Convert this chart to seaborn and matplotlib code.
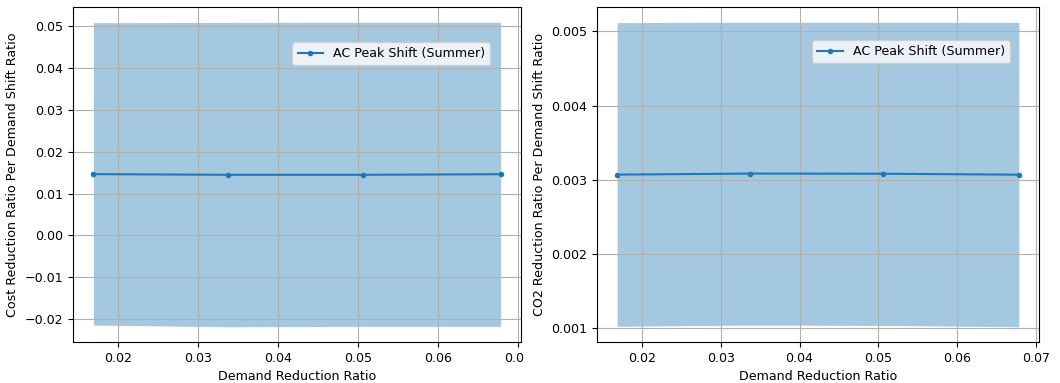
import matplotlib
matplotlib.use("Agg")
import matplotlib.pyplot as plt
import seaborn as sns
import pandas as pd
from matplotlib.transforms import Bbox, TransformedBbox, IdentityTransform

# ---- data ----
demand_reduction = [0.01688, 0.03375, 0.05063, 0.06780]
cost_mean = [0.01464, 0.01448, 0.01448, 0.01462]
cost_lower = [-0.0215, -0.0219, -0.0218, -0.0218]
cost_upper = [0.0509, 0.05095, 0.0510, 0.0510]
co2_mean = [0.003067, 0.003081, 0.003079, 0.003066]
co2_lower = [0.001018, 0.001035, 0.001030, 0.001012]
co2_upper = [0.005120, 0.005125, 0.005125, 0.005122]
series_label = "AC Peak Shift (Summer)"
x_label = "Demand Reduction Ratio"
y_labels = ["Cost Reduction Ratio Per Demand Shift Ratio",
            "CO2 Reduction Ratio Per Demand Shift Ratio"]
x_ticks = [0.02, 0.03, 0.04, 0.05, 0.06, 0.07]
cost_ticks = [-0.02, -0.01, 0.0, 0.01, 0.02, 0.03, 0.04, 0.05]
co2_ticks = [0.001, 0.002, 0.003, 0.004, 0.005]

plt.rcParams.update(matplotlib.rcParamsDefault)
plt.rcParams['font.family'] = ['DejaVu Sans']
plt.rcParams['font.size'] = 9.1

W, H = 1060, 383
fig = plt.figure(figsize=(W / 100, H / 100), dpi=100)
ax1 = fig.add_axes([73 / W, 1 - 342 / H, (521 - 73) / W, 335 / H])
ax2 = fig.add_axes([597 / W, 1 - 342 / H, (1039 - 597) / W, 335 / H])

color = "#1f77b4"
panels = [(ax1, cost_mean, cost_lower, cost_upper, y_labels[0]),
          (ax2, co2_mean, co2_lower, co2_upper, y_labels[1])]
for ax, mean, lo, hi, ylab in panels:
    df = pd.DataFrame({"x": demand_reduction, "y": mean})
    sns.lineplot(data=df, x="x", y="y", ax=ax, marker="o", markersize=4,
                 markeredgewidth=0, color=color, label=series_label, linewidth=1.5)
    ax.fill_between(demand_reduction, lo, hi, color=color, alpha=0.4, linewidth=0)
    ax.grid(True, color="#b0b0b0", linewidth=0.8)
    ax.set_xlabel(x_label)
    ax.set_ylabel(ylab)
    ax.set_xticks(x_ticks)
    ax.set_xlim(0.01433, 0.07035)

ax1.set_yticks(cost_ticks)
ax2.set_yticks(co2_ticks)

ax1.legend(loc="upper right", bbox_to_anchor=(0.931, 0.8955), borderaxespad=0,
           framealpha=0.8)
ax2.legend(loc="upper right", bbox_to_anchor=(0.934, 0.901), borderaxespad=0,
           framealpha=0.8)

# left panel's tick labels are cut off at the panel border
fig.canvas.draw()
clip = TransformedBbox(Bbox.from_extents(0, 0, 524, H), IdentityTransform())
for lbl in ax1.get_xticklabels():
    lbl.set_clip_box(clip)
    lbl.set_clip_on(True)

fig.savefig("out.png", dpi=100)
